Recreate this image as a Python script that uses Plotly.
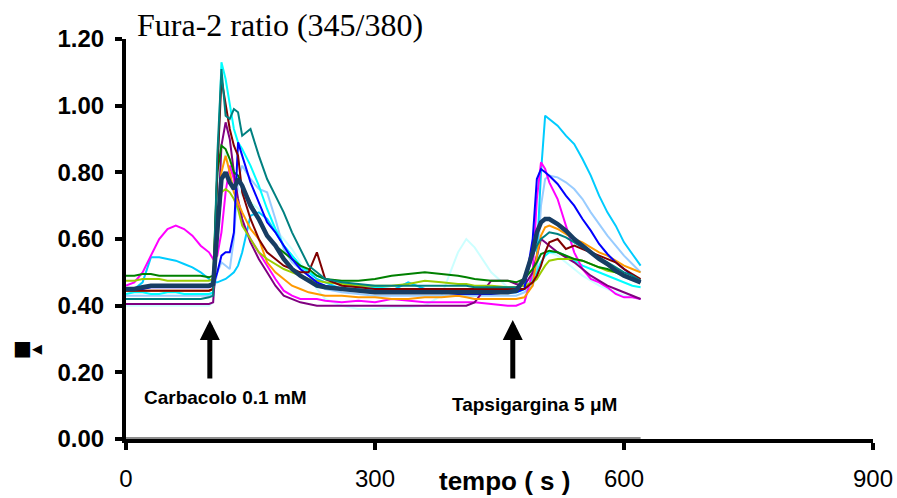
from __future__ import annotations

import plotly.graph_objects as go

# time axis shared by every cell trace (seconds)
TIME_S = [
    0, 10, 20, 30, 40, 50, 60, 70, 80, 90,
    100, 105, 110, 115, 120, 125, 130, 135, 140,
    150, 160, 170, 180, 190, 200, 210, 220, 230, 240,
    260, 280, 300, 320, 340, 360, 380, 400,
    410, 420, 440, 460,
    470, 480, 490, 495, 500, 505, 510,
    520, 530, 540, 550, 560, 570, 580, 590, 600, 610, 620,
]

# Fura-2 345/380 ratio, one list per cell
CELL_MAGENTA = [
    0.46, 0.47, 0.50, 0.55, 0.60, 0.63, 0.64, 0.63, 0.61, 0.58,
    0.56, 0.54, 0.55, 0.62, 0.74, 0.82, 0.78, 0.70, 0.65,
    0.60, 0.56, 0.52, 0.48, 0.445, 0.43, 0.42, 0.42, 0.42, 0.415,
    0.41, 0.415, 0.41, 0.42, 0.415, 0.41, 0.41, 0.41,
    0.41, 0.41, 0.405, 0.40,
    0.40, 0.41, 0.50, 0.72, 0.83, 0.81, 0.77,
    0.72, 0.64, 0.56, 0.51, 0.48, 0.47, 0.455, 0.435, 0.425, 0.425, 0.42,
]
CELL_SKY = [
    0.45, 0.45, 0.47, 0.545, 0.545, 0.54, 0.535, 0.525, 0.515, 0.50,
    0.48, 0.47, 0.47, 0.475, 0.48, 0.49, 0.50, 0.52, 0.56,
    0.67, 0.68, 0.66, 0.62, 0.58, 0.55, 0.52, 0.50, 0.48, 0.47,
    0.45, 0.45, 0.445, 0.445, 0.47, 0.45, 0.445, 0.445,
    0.445, 0.44, 0.44, 0.44,
    0.44, 0.45, 0.47, 0.55, 0.80, 0.97, 0.96,
    0.94, 0.91, 0.885, 0.84, 0.79, 0.73, 0.68, 0.64, 0.59, 0.555, 0.52,
]
CELL_CYAN = [
    0.435, 0.44, 0.44, 0.435, 0.435, 0.44, 0.44, 0.435, 0.435, 0.435,
    0.435, 0.44, 0.80, 1.13, 1.08, 1.01, 0.93, 0.89, 0.87,
    0.82, 0.76, 0.69, 0.63, 0.58, 0.55, 0.52, 0.50, 0.49, 0.48,
    0.47, 0.46, 0.455, 0.45, 0.45, 0.45, 0.45, 0.445,
    0.44, 0.44, 0.44, 0.44,
    0.44, 0.45, 0.48, 0.50, 0.53, 0.55, 0.56,
    0.56, 0.55, 0.535, 0.52, 0.51, 0.50, 0.49, 0.48, 0.47, 0.46, 0.455,
]
CELL_TEAL = [
    0.42, 0.42, 0.42, 0.42, 0.42, 0.42, 0.42, 0.42, 0.42, 0.42,
    0.425, 0.43, 0.85, 1.11, 0.97, 0.96, 0.99, 0.98, 0.91,
    0.93, 0.85, 0.78, 0.73, 0.68, 0.62, 0.57, 0.52, 0.50, 0.48,
    0.47, 0.465, 0.46, 0.46, 0.46, 0.46, 0.46, 0.46,
    0.46, 0.455, 0.455, 0.455,
    0.455, 0.47, 0.55, 0.58, 0.60, 0.61, 0.62,
    0.615, 0.605, 0.59, 0.575, 0.56, 0.545, 0.53, 0.515, 0.50, 0.49, 0.475,
]
CELL_MAROON = [
    0.445, 0.445, 0.445, 0.445, 0.445, 0.445, 0.445, 0.445, 0.445, 0.445,
    0.445, 0.45, 0.80, 1.08, 1.00, 0.93, 0.88, 0.85, 0.74,
    0.66, 0.60, 0.56, 0.54, 0.52, 0.51, 0.50, 0.50, 0.56, 0.48,
    0.46, 0.455, 0.45, 0.45, 0.45, 0.45, 0.45, 0.45,
    0.45, 0.45, 0.45, 0.45,
    0.45, 0.45, 0.47, 0.49, 0.52, 0.56, 0.59,
    0.60, 0.57, 0.58, 0.57, 0.56, 0.55, 0.54, 0.53, 0.51, 0.495, 0.48,
]
CELL_PURPLE = [
    0.405, 0.405, 0.405, 0.405, 0.405, 0.405, 0.405, 0.405, 0.405, 0.405,
    0.405, 0.41, 0.60, 0.88, 0.95, 0.90, 0.80, 0.72, 0.66,
    0.59, 0.54, 0.50, 0.46, 0.43, 0.42, 0.41, 0.405, 0.40, 0.40,
    0.40, 0.40, 0.40, 0.40, 0.40, 0.40, 0.40, 0.40,
    0.40, 0.41, 0.475, 0.475,
    0.465, 0.46, 0.50, 0.55, 0.60, 0.59, 0.58,
    0.56, 0.545, 0.53, 0.51, 0.49, 0.475, 0.46, 0.45, 0.44, 0.43, 0.42,
]
CELL_BLUE = [
    0.45, 0.45, 0.45, 0.455, 0.455, 0.455, 0.455, 0.455, 0.455, 0.455,
    0.455, 0.46, 0.50, 0.55, 0.56, 0.56, 0.62, 0.89, 0.85,
    0.77, 0.71, 0.65, 0.62, 0.58, 0.54, 0.51, 0.49, 0.47, 0.46,
    0.45, 0.445, 0.445, 0.44, 0.44, 0.44, 0.44, 0.435,
    0.435, 0.435, 0.435, 0.44,
    0.44, 0.45, 0.60, 0.78, 0.81, 0.80, 0.79,
    0.765, 0.73, 0.70, 0.66, 0.625, 0.585, 0.555, 0.53, 0.51, 0.49, 0.47,
]
CELL_LIGHT_BLUE = [
    0.43, 0.43, 0.43, 0.43, 0.43, 0.43, 0.43, 0.43, 0.43, 0.43,
    0.43, 0.435, 0.50, 0.53, 0.52, 0.51, 0.60, 0.78, 0.82,
    0.78, 0.75, 0.74, 0.66, 0.57, 0.53, 0.51, 0.49, 0.47, 0.45,
    0.44, 0.435, 0.43, 0.43, 0.43, 0.43, 0.43, 0.43,
    0.43, 0.43, 0.43, 0.43,
    0.43, 0.44, 0.46, 0.50, 0.70, 0.78, 0.79,
    0.785, 0.77, 0.75, 0.72, 0.68, 0.645, 0.61, 0.58, 0.55, 0.525, 0.50,
]
CELL_GREEN = [
    0.49, 0.49, 0.495, 0.495, 0.49, 0.49, 0.49, 0.49, 0.49, 0.49,
    0.485, 0.49, 0.80, 0.88, 0.87, 0.84, 0.80, 0.79, 0.76,
    0.71, 0.66, 0.61, 0.58, 0.56, 0.54, 0.52, 0.51, 0.49, 0.48,
    0.475, 0.475, 0.48, 0.49, 0.495, 0.50, 0.495, 0.49,
    0.485, 0.48, 0.475, 0.475,
    0.47, 0.48, 0.51, 0.53, 0.555, 0.56, 0.565,
    0.56, 0.55, 0.54, 0.535, 0.525, 0.515, 0.51, 0.50, 0.49, 0.48, 0.475,
]
CELL_LIME = [
    0.475, 0.475, 0.48, 0.48, 0.48, 0.475, 0.475, 0.475, 0.475, 0.475,
    0.475, 0.48, 0.62, 0.74, 0.75, 0.74, 0.72, 0.69, 0.64,
    0.60, 0.56, 0.54, 0.525, 0.51, 0.50, 0.49, 0.48, 0.475, 0.47,
    0.465, 0.46, 0.46, 0.46, 0.465, 0.475, 0.47, 0.465,
    0.465, 0.46, 0.46, 0.455,
    0.455, 0.46, 0.47, 0.48, 0.50, 0.52, 0.535,
    0.54, 0.54, 0.54, 0.535, 0.525, 0.515, 0.505, 0.50, 0.49, 0.48, 0.47,
]
CELL_ORANGE = [
    0.445, 0.445, 0.445, 0.445, 0.445, 0.445, 0.445, 0.445, 0.445, 0.445,
    0.445, 0.45, 0.65, 0.80, 0.85, 0.80, 0.74, 0.71, 0.68,
    0.63, 0.60, 0.53, 0.50, 0.48, 0.46, 0.45, 0.44, 0.435, 0.43,
    0.43, 0.425, 0.425, 0.42, 0.42, 0.425, 0.425, 0.43,
    0.425, 0.42, 0.42, 0.42,
    0.42, 0.425, 0.46, 0.55, 0.61, 0.635, 0.64,
    0.63, 0.615, 0.60, 0.59, 0.575, 0.56, 0.55, 0.535, 0.52, 0.51, 0.50,
]
CELL_PALE_CYAN = [
    0.40, 0.40, 0.40, 0.40, 0.40, 0.40, 0.40, 0.40, 0.40, 0.40,
    0.40, 0.41, 0.60, 0.80, 0.86, 0.80, 0.77, 0.75, 0.73,
    0.71, 0.69, 0.66, 0.63, 0.60, 0.57, 0.53, 0.49, 0.45, 0.42,
    0.40, 0.39, 0.39, 0.395, 0.395, 0.40, 0.43, 0.56,
    0.60, 0.575, 0.50, 0.455,
    0.44, 0.44, 0.47, 0.50, 0.53, 0.55, 0.56,
    0.55, 0.53, 0.51, 0.49, 0.475, 0.46, 0.45, 0.44, 0.43, 0.425, 0.42,
]
CELL_MEAN = [
    0.45, 0.45, 0.455, 0.46, 0.46, 0.46, 0.46, 0.46, 0.46, 0.46,
    0.46, 0.465, 0.62, 0.78, 0.80, 0.77, 0.75, 0.78, 0.76,
    0.70, 0.66, 0.61, 0.58, 0.54, 0.51, 0.49, 0.475, 0.46, 0.455,
    0.45, 0.445, 0.44, 0.44, 0.44, 0.44, 0.44, 0.44,
    0.44, 0.44, 0.44, 0.44,
    0.445, 0.48, 0.56, 0.62, 0.65, 0.66, 0.66,
    0.645, 0.625, 0.60, 0.58, 0.56, 0.54, 0.525, 0.505, 0.49, 0.48, 0.47,
]

# flat grey series lying on the time axis
ZERO_TIME_S = [0, 620]
ZERO_RATIO = [0.0, 0.0]

Y_TICKS = [0.0, 0.2, 0.4, 0.6, 0.8, 1.0, 1.2]
X_TICKS = [0, 300, 600, 900]

# (label, time of addition in s)
STIMULI = [("Carbacolo 0.1 mM", 101), ("Tapsigargina 5 μM", 466)]

CELLS = [
    (CELL_PALE_CYAN, "#CCFFFF"),
    (CELL_LIGHT_BLUE, "#99CCFF"),
    (CELL_SKY, "#00CCFF"),
    (CELL_CYAN, "#00FFFF"),
    (CELL_MAGENTA, "#FF00FF"),
    (CELL_PURPLE, "#800080"),
    (CELL_ORANGE, "#FF9900"),
    (CELL_LIME, "#99CC00"),
    (CELL_GREEN, "#008000"),
    (CELL_BLUE, "#0000FF"),
    (CELL_MAROON, "#800000"),
    (CELL_TEAL, "#008080"),
]

SANS = "Liberation Sans, Arial, sans-serif"
SERIF = "Liberation Serif, Times New Roman, serif"

# label placement relative to the arrow: (time offset in s, paper y)
LABEL_PLACEMENT = [(19, 0.105), (26, 0.0875)]


def build_figure() -> go.Figure:
    fig = go.Figure()
    fig.add_trace(
        go.Scatter(x=ZERO_TIME_S, y=ZERO_RATIO, mode="lines", line={"color": "#8c8c8c", "width": 4}, showlegend=False)
    )
    for values, color in CELLS:
        fig.add_trace(
            go.Scatter(x=TIME_S, y=values, mode="lines", line={"color": color, "width": 2}, showlegend=False)
        )
    fig.add_trace(
        go.Scatter(x=TIME_S, y=CELL_MEAN, mode="lines", line={"color": "#173d63", "width": 4.5}, showlegend=False)
    )

    axis_style = dict(
        showline=True,
        linecolor="black",
        linewidth=4,
        ticks="outside",
        ticklen=7,
        tickwidth=4,
        tickcolor="black",
        showgrid=False,
        zeroline=False,
        automargin=False,
        layer="below traces",
    )
    fig.update_xaxes(
        range=[0, 900],
        tickvals=X_TICKS,
        tickfont={"family": SANS, "size": 24, "color": "black"},
        ticklabelstandoff=8,
        **axis_style,
    )
    fig.update_yaxes(
        range=[0, 1.2],
        tickvals=Y_TICKS,
        tickformat=".2f",
        tickfont={"family": SANS, "size": 24, "color": "black", "weight": "bold"},
        ticklabelstandoff=6,
        **axis_style,
    )

    annotations = [
        dict(
            text="Fura-2 ratio (345/380)",
            xref="paper", yref="paper", x=0.2055, y=1.035,
            xanchor="center", yanchor="middle", showarrow=False,
            font={"family": SERIF, "size": 32, "color": "black"},
        ),
        dict(
            text="<b>tempo ( s )</b>",
            xref="paper", yref="paper", x=0.507, y=-0.105,
            xanchor="center", yanchor="middle", showarrow=False,
            font={"family": SANS, "size": 26, "color": "black"},
        ),
        dict(
            text="<b>■◂</b>",
            xref="paper", yref="paper", x=-0.1325, y=0.2275,
            xanchor="center", yanchor="middle", showarrow=False,
            font={"family": "DejaVu Sans", "size": 20, "color": "black"},
        ),
    ]
    for (label, t_add), (dx, ly) in zip(STIMULI, LABEL_PLACEMENT):
        annotations.append(
            dict(
                x=t_add, y=0.357, xref="x", yref="y", text="",
                showarrow=True, ax=0, ay=60, arrowhead=2, arrowsize=0.8,
                arrowwidth=5, arrowcolor="black", standoff=0,
            )
        )
        annotations.append(
            dict(
                text=f"<b>{label}</b>",
                x=t_add + dx, y=ly, xref="x", yref="paper",
                xanchor="center", yanchor="middle", showarrow=False,
                font={"family": SANS, "size": 19, "color": "black"},
            )
        )

    fig.update_layout(
        template="none",
        width=897,
        height=498,
        margin={"l": 126, "r": 24, "t": 39, "b": 59, "pad": 0},
        paper_bgcolor="white",
        plot_bgcolor="white",
        showlegend=False,
        annotations=annotations,
    )
    return fig


def main() -> None:
    fig = build_figure()
    # drop the default page margin so the figure fills the window exactly
    fig.write_html(
        "out.html",
        config={"displayModeBar": False},
        post_script="document.body.style.margin='0';document.body.style.overflow='hidden';",
    )


if __name__ == "__main__":
    main()
